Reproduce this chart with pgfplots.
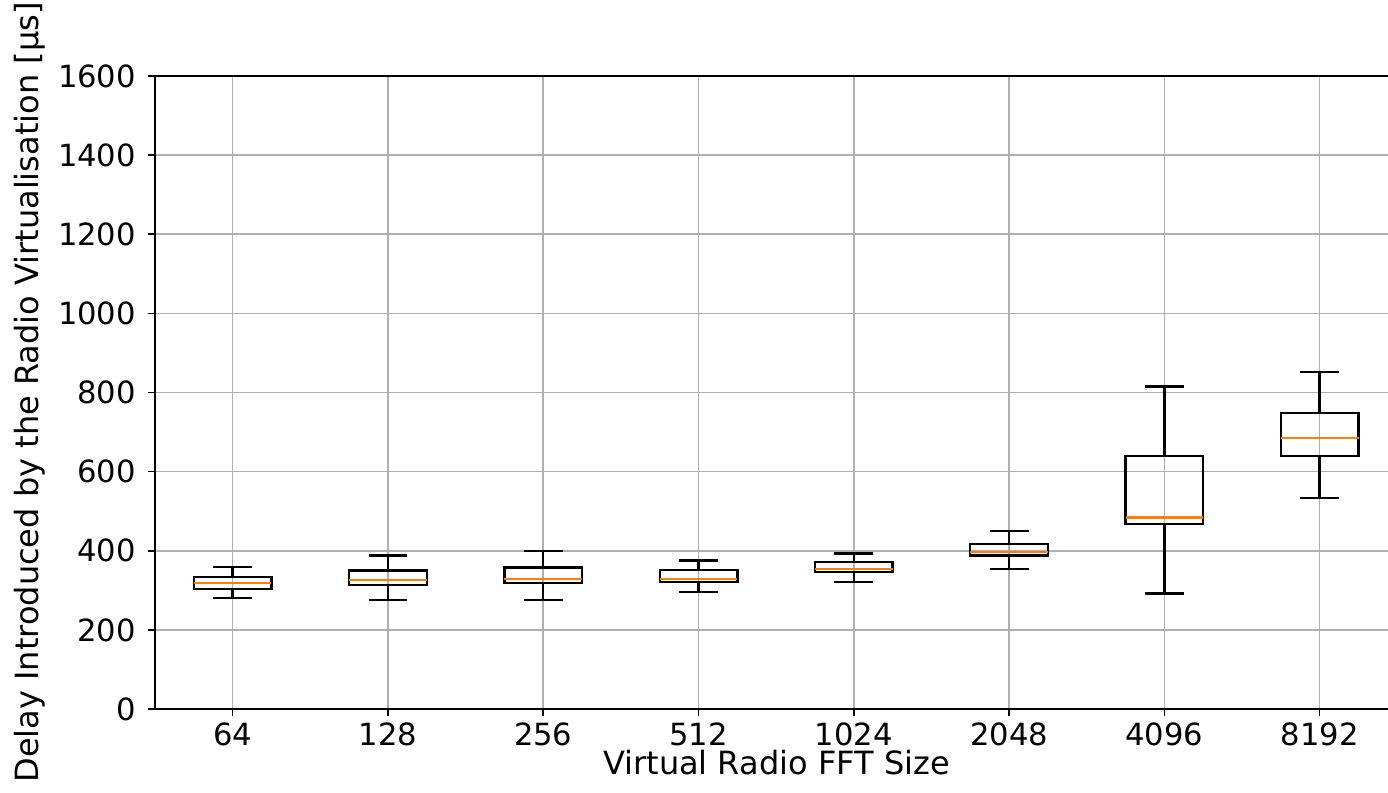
\documentclass[border=0pt]{standalone}
\usepackage{pgfplots}
\pgfplotsset{compat=1.18}
\usepgfplotslibrary{statistics}
\usepackage{fontspec}
\setmainfont{DejaVu Sans}
\definecolor{mplorange}{HTML}{FF7F0E}
\definecolor{gridgray}{HTML}{B0B0B0}
\begin{document}
\begin{tikzpicture}
\begin{axis}[
  at={(77.5pt,42pt)}, anchor=south west,
  scale only axis, width=620pt, height=316.5pt,
  xmin=0.5, xmax=8.485, ymin=0, ymax=1600,
  axis line style={line width=0.9pt, black},
  xtick={1,2,3,4,5,6,7,8},
  xticklabels={64,128,256,512,1024,2048,4096,8192},
  ytick={0,200,400,600,800,1000,1200,1400,1600},
  xtick pos=bottom, ytick pos=left,
  tick align=outside, major tick length=3.5pt,
  tick style={black, line width=0.8pt},
  grid=major, grid style={gridgray, line width=0.8pt},
  /pgf/number format/1000 sep={},
  /pgf/number format/assume math mode=true,
  ticklabel style={font=\fontsize{15.3}{18}\selectfont},
  yticklabel style={xshift=-2.5pt},
  every axis y label/.style={at={(axis description cs:-0.1008,0.5)}, rotate=90, anchor=center},
  every axis x label/.style={at={(axis description cs:0,0)}, anchor=center, xshift=310.75pt, yshift=-27pt},
  label style={font=\fontsize{16}{19}\selectfont},
  ylabel={Delay Introduced by the Radio Virtualisation [μs]},
  xlabel={Virtual Radio FFT Size},
  boxplot/draw direction=y,
  boxplot/box extend=0.5,
  boxplot/whisker extend=0.25,
  boxplot/every median/.style={draw=mplorange, solid, line width=1.1pt},
  boxplot/every box/.style={draw=black, solid, line width=1.2pt},
  boxplot/every whisker/.style={draw=black, solid, line width=1.2pt},
]
\addplot[black, solid, line width=1.2pt, boxplot prepared={draw position=1, lower whisker=280, lower quartile=304, median=318, upper quartile=333, upper whisker=359}] coordinates {};
\addplot[black, solid, line width=1.2pt, boxplot prepared={draw position=2, lower whisker=275, lower quartile=313, median=326, upper quartile=350, upper whisker=388}] coordinates {};
\addplot[black, solid, line width=1.2pt, boxplot prepared={draw position=3, lower whisker=275, lower quartile=318, median=329, upper quartile=358, upper whisker=400}] coordinates {};
\addplot[black, solid, line width=1.2pt, boxplot prepared={draw position=4, lower whisker=296, lower quartile=321, median=328, upper quartile=351, upper whisker=375}] coordinates {};
\addplot[black, solid, line width=1.2pt, boxplot prepared={draw position=5, lower whisker=321, lower quartile=346, median=353, upper quartile=372, upper whisker=393}] coordinates {};
\addplot[black, solid, line width=1.2pt, boxplot prepared={draw position=6, lower whisker=354, lower quartile=388, median=396, upper quartile=417, upper whisker=450}] coordinates {};
\addplot[black, solid, line width=1.2pt, boxplot prepared={draw position=7, lower whisker=292, lower quartile=468, median=484, upper quartile=640, upper whisker=815}] coordinates {};
\addplot[black, solid, line width=1.2pt, boxplot prepared={draw position=8, lower whisker=533, lower quartile=640, median=685, upper quartile=748, upper whisker=852}] coordinates {};
\end{axis}
\pgfresetboundingbox
\useasboundingbox (0,0) rectangle (694pt,396.5pt);
\end{tikzpicture}
\end{document}
